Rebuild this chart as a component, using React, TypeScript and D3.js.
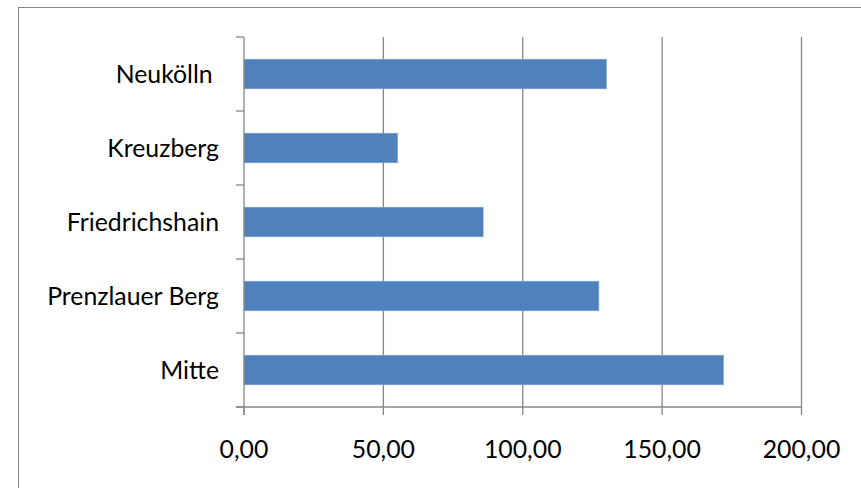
import React from "react";
import * as d3 from "d3";

// District values (top to bottom as shown)
const districts = ["Neukölln ", "Kreuzberg", "Friedrichshain", "Prenzlauer Berg", "Mitte"];
const values = [130.0, 55.1, 85.8, 127.3, 172.0];
const xTicks = [0, 50, 100, 150, 200];

const W = 861;
const H = 488;
const plot = { left: 244, right: 801.5, top: 37, bottom: 407 };
const font = "Lato, 'Open Sans', sans-serif";
const axisColor = "#878787";
const barColor = "#4F81BD";

export default function App() {
  const x = d3.scaleLinear().domain([0, 200]).range([plot.left, plot.right]);
  const y = d3
    .scaleBand<string>()
    .domain(districts)
    .range([plot.top, plot.bottom])
    .paddingInner(0.6)
    .paddingOuter(0.3);
  const step = y.step();
  const gap = (step - y.bandwidth()) / 2;
  const boundaries = districts.map((d) => (y(d) as number) - gap).concat([plot.bottom]);
  const fmt = (v: number) => v.toFixed(2).replace(".", ",");

  return (
    <svg
      width={W}
      height={H}
      style={{ position: "absolute", left: 0, top: 0, display: "block", background: "#fff" }}
    >
      {/* outer chart frame */}
      <rect x={18.5} y={7.5} width={W + 20} height={H + 20} fill="#fff" stroke={axisColor} strokeWidth={1} />

      {/* vertical gridlines */}
      {xTicks.slice(1).map((t) => (
        <line key={"g" + t} x1={x(t)} x2={x(t)} y1={plot.top} y2={plot.bottom} stroke={axisColor} strokeWidth={1.3} />
      ))}

      {/* bars */}
      {districts.map((d, i) => (
        <rect
          key={d}
          x={x(0)}
          y={y(d)}
          width={x(values[i]) - x(0)}
          height={y.bandwidth()}
          fill={barColor}
          stroke="#7fa3d1"
          strokeWidth={0.6}
        />
      ))}

      {/* y axis with category ticks */}
      <line x1={plot.left} x2={plot.left} y1={plot.top} y2={plot.bottom + 8} stroke={axisColor} strokeWidth={1.3} />
      {boundaries.map((b, i) => (
        <line key={"yt" + i} x1={plot.left - 8} x2={plot.left} y1={b} y2={b} stroke={axisColor} strokeWidth={1.3} />
      ))}

      {/* x axis with value ticks */}
      <line x1={plot.left - 8} x2={plot.right} y1={plot.bottom} y2={plot.bottom} stroke={axisColor} strokeWidth={1.3} />
      {xTicks.map((t) => (
        <line key={"xt" + t} x1={x(t)} x2={x(t)} y1={plot.bottom} y2={plot.bottom + 8} stroke={axisColor} strokeWidth={1.3} />
      ))}

      {/* category labels */}
      {districts.map((d) => (
        <text
          key={"l" + d}
          x={219}
          y={(y(d) as number) + y.bandwidth() / 2 + 8.5}
          textAnchor="end"
          fontFamily={font}
          fontSize={24.8}
          fill="#000"
          style={{ whiteSpace: "pre" }}
        >
          {d}
        </text>
      ))}

      {/* value tick labels */}
      {xTicks.map((t) => (
        <text
          key={"xl" + t}
          x={x(t)}
          y={457.5}
          textAnchor="middle"
          fontFamily={font}
          fontSize={24.8}
          fill="#000"
        >
          {fmt(t)}
        </text>
      ))}
    </svg>
  );
}
